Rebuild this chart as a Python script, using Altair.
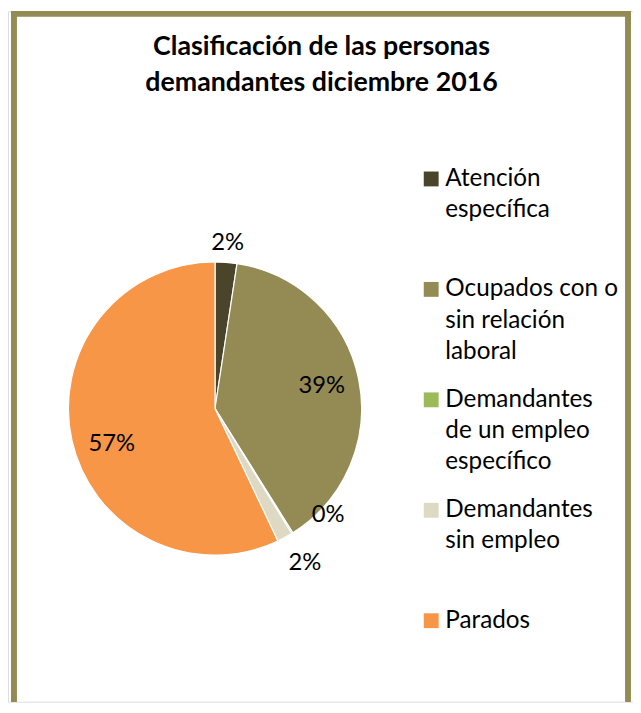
import altair as alt
import pandas as pd

# ---- data ----
categorias = [
    "Atención específica",
    "Ocupados con o sin relación laboral",
    "Demandantes de un empleo específico",
    "Demandantes sin empleo",
    "Parados",
]
valores = [2.4, 38.7, 0.15, 1.7, 57.05]
colores = ["#4A442A", "#948A54", "#9BBB59", "#DDD9C3", "#F79646"]
lineas_leyenda = [
    ["Atención", "específica", " "],
    ["Ocupados con o", "sin relación", "laboral"],
    ["Demandantes", "de un empleo", "específico"],
    ["Demandantes", "sin empleo", " "],
    ["Parados", " ", " "],
]
titulo = ["Clasificación de las personas", "demandantes  diciembre 2016"]

df = pd.DataFrame({"categoria": categorias, "valor": valores, "orden": list(range(len(categorias)))})

FONT = "Lato"
W, H = 631, 697
CX, CY, R = 209, 401, 148

label_map = "{" + ", ".join(
    "'" + c + "': [" + ", ".join("'" + l + "'" for l in ls) + "]"
    for c, ls in zip(categorias, lineas_leyenda)
) + "}"

color_scale = alt.Scale(domain=categorias, range=colores)

base = alt.Chart(df)

pie = base.mark_arc(radius=R, x=CX, y=CY, stroke="white", strokeWidth=1.2).encode(
    theta=alt.Theta("valor:Q", stack=True),
    color=alt.Color(
        "categoria:N",
        scale=color_scale,
        sort=categorias,
        legend=alt.Legend(
            title=None,
            orient="none",
            legendX=415,
            legendY=157,
            padding=0,
            symbolType="square",
            symbolSize=225,
            symbolStrokeWidth=0,
            labelFont=FONT,
            labelFontSize=24.5,
            labelColor="black",
            labelOffset=2,
            labelLimit=0,
            labelBaseline="middle",
            rowPadding=23.5,
            labelExpr=label_map + "[datum.label]",
        ),
    ),
    order=alt.Order("orden:Q"),
)

labels_base = base.transform_joinaggregate(total="sum(valor)").transform_window(
    acum="sum(valor)", sort=[alt.SortField("orden")], frame=[None, 0]
).transform_calculate(
    medio="datum.acum - datum.valor / 2", frac="datum.valor / datum.total"
)


def etiqueta(filtro, radio, dx=0, dy=0):
    return labels_base.transform_filter(filtro).mark_text(
        radius=radio, x=CX, y=CY, dx=dx, dy=dy, font=FONT, fontSize=24, color="black"
    ).encode(
        theta=alt.Theta("medio:Q", stack=None),
        text=alt.Text("frac:Q", format=".0%"),
    )


l_atencion = etiqueta("datum.orden == 0", 168)
l_ocupados = etiqueta("datum.orden == 1", 110)
l_especifico = etiqueta("datum.orden == 2", 160, dx=30, dy=-28)
l_sin = etiqueta("datum.orden == 3", 176, dx=7, dy=1)
l_parados = etiqueta("datum.orden == 4", 110, dx=3, dy=12)

borde = "#948A54"
r_left = base.mark_rule(color=borde, strokeWidth=5).encode(
    x=alt.value(6), y=alt.value(0), y2=alt.value(H)
)
r_right = base.mark_rule(color=borde, strokeWidth=5).encode(
    x=alt.value(626), y=alt.value(0), y2=alt.value(H)
)
r_top = base.mark_rule(color=borde, strokeWidth=5).encode(
    x=alt.value(3.5), x2=alt.value(628.5), y=alt.value(2.5)
)

chart = alt.layer(
    pie, l_atencion, l_ocupados, l_especifico, l_sin, l_parados, r_left, r_right, r_top
).properties(
    width=W,
    height=H,
    autosize=alt.AutoSizeParams(type="none"),
    padding=0,
    title=alt.TitleParams(
        text=titulo,
        anchor="middle",
        font=FONT,
        fontSize=27,
        fontWeight="bold",
        color="black",
        lineHeight=36,
        offset=-89,
        dx=1,
    ),
).configure_view(strokeWidth=0).configure(
    background="white", style={"guide-label": {"lineHeight": 31.5}}
)

chart.save("out.html", embed_options={"renderer": "svg", "actions": False})
